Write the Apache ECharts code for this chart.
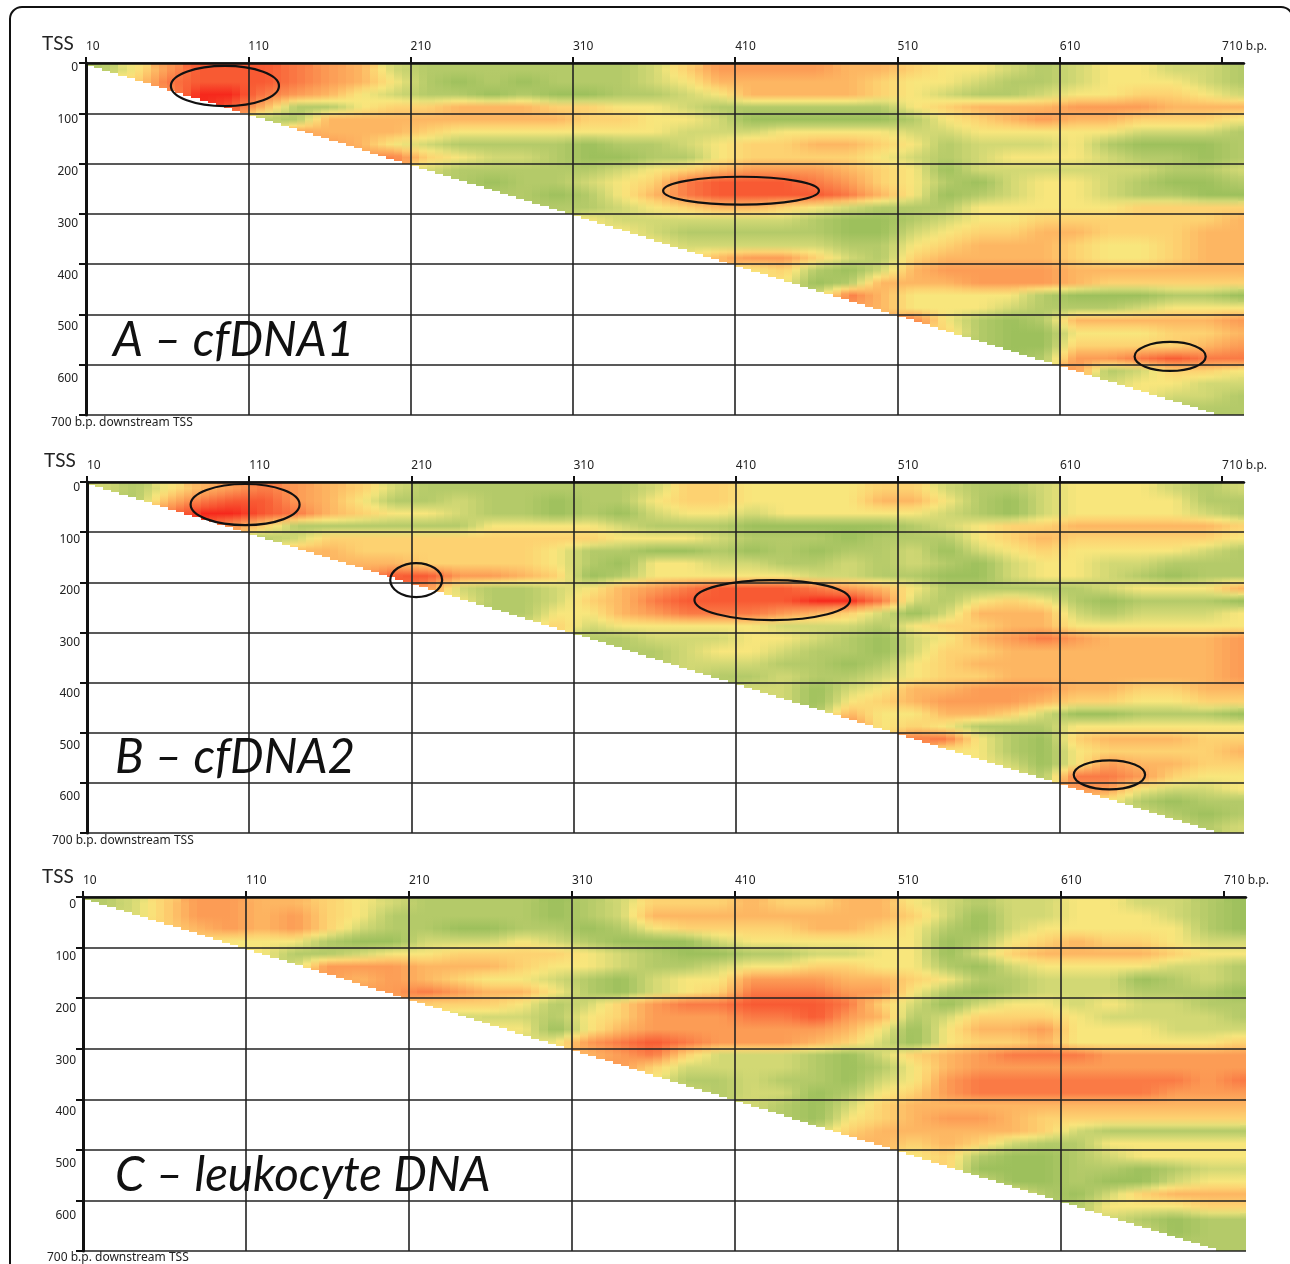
<!DOCTYPE html>
<html>
<head>
<meta charset="utf-8">
<style>html,body{margin:0;padding:0;background:#fff}#c{width:1290px;height:1264px}</style>
<script src="https://cdn.jsdelivr.net/npm/echarts@6/dist/echarts.min.js"></script>
</head>
<body>
<div id="c"></div>
<script>
// Tick labels
const xTickValues = [0, 100, 200, 300, 400, 500, 600, 700];
const xTickLabels = ['10', '110', '210', '310', '410', '510', '610', '710 b.p.'];
const yTickValues = [0, 100, 200, 300, 400, 500, 600, 700];

// Colour level read per cell: 20 b.p. columns, 25 b.p. rows (0 green, 3 yellow, 9 red)
const panelA = [
  "13688 87652 11111 11246 66655 43321 23322 1",
  ".4788 87653 10101 11235 55554 33211 23332 1",
  "..699 76532 11010 01123 55554 32112 33443 2",
  "...98 51134 45554 43321 11111 34555 66655 5",
  "..... 11555 55555 44332 00000 13456 55444 3",
  "..... .6555 43333 33322 23333 22333 33222 1",
  "..... ..653 21111 01123 44554 31222 31000 1",
  "..... ...67 43221 00113 44443 21233 32110 1",
  "..... ..... 21111 12345 66654 30222 22211 2",
  "..... ..... .1011 23478 88764 31023 32100 1",
  "..... ..... ..110 13578 88875 30123 32110 0",
  "..... ..... ...11 12345 54321 11333 33444 4",
  "..... ..... ..... 32222 22100 12334 44444 5",
  "..... ..... ..... .3211 11100 23445 54445 5",
  "..... ..... ..... ..322 22211 34555 43345 5",
  "..... ..... ..... ...35 66421 45555 43345 5",
  "..... ..... ..... ..... 34102 56666 55555 5",
  "..... ..... ..... ..... .3015 55666 54444 4",
  "..... ..... ..... ..... ..275 33331 00011 0",
  "..... ..... ..... ..... ...65 33321 11233 3",
  "..... ..... ..... ..... ..... 73101 55555 6",
  "..... ..... ..... ..... ..... .4100 33344 5",
  "..... ..... ..... ..... ..... ..100 44445 6",
  "..... ..... ..... ..... ..... ...01 66787 7",
  "..... ..... ..... ..... ..... ..... 61244 3",
  "..... ..... ..... ..... ..... ..... .2332 2",
  "..... ..... ..... ..... ..... ..... ..322 1",
  "..... ..... ..... ..... ..... ..... ...11 1"
];
const panelB = [
  "21356 76542 11111 11244 33334 42112 33321 2",
  ".1578 86531 12110 11344 33335 53102 33331 1",
  "..799 87543 32110 10233 23333 32102 33332 1",
  "...86 41111 11333 32111 00000 12344 55555 4",
  "..... 12444 44444 43332 11101 11345 44444 3",
  "..... .5544 44443 11001 01011 20234 33332 1",
  "..... ..555 44443 10332 21121 21023 32211 1",
  "..... ...68 86654 01333 33221 10023 32101 1",
  "..... ..... 62112 35678 88765 31111 12333 5",
  "..... ..... .3112 45788 88997 21343 10111 0",
  "..... ..... ..113 35677 76542 02555 21222 3",
  "..... ..... ...24 23333 32221 34455 33333 3",
  "..... ..... ..... 11222 33210 23567 65555 6",
  "..... ..... ..... .1123 32110 24455 55555 6",
  "..... ..... ..... ..122 21101 34555 55555 6",
  "..... ..... ..... ...21 12112 34455 55555 6",
  "..... ..... ..... ..... 22023 55666 55445 5",
  "..... ..... ..... ..... .2034 56665 44334 4",
  "..... ..... ..... ..... ..153 35542 00111 0",
  "..... ..... ..... ..... ...73 43111 33333 3",
  "..... ..... ..... ..... ..... 77310 45554 4",
  "..... ..... ..... ..... ..... .3310 34444 5",
  "..... ..... ..... ..... ..... ..320 36554 4",
  "..... ..... ..... ..... ..... ...31 77643 3",
  "..... ..... ..... ..... ..... ..... 66322 3",
  "..... ..... ..... ..... ..... ..... .3101 1",
  "..... ..... ..... ..... ..... ..... ..210 1",
  "..... ..... ..... ..... ..... ..... ...21 2"
];
const panelC = [
  "12466 55432 11110 12444 54455 32122 33221 0",
  ".2466 56431 11110 12555 55555 42022 33321 0",
  "..456 56421 10011 01344 44554 31023 33331 0",
  "...43 33100 22232 10002 33333 30134 54432 2",
  "..... 31123 34444 32100 11223 30245 55543 3",
  "..... .2666 55543 32112 33443 31023 33322 1",
  "..... ..656 54332 10233 66655 43112 22012 1",
  "..... ...66 76553 10234 77766 31012 22111 0",
  "..... ..... 44431 24677 88874 20233 23221 1",
  "..... ..... .2221 34666 77865 12444 32222 1",
  "..... ..... ..330 35666 66653 03556 33322 2",
  "..... ..... ...23 67876 66542 03445 33333 4",
  "..... ..... ..... 56742 22102 45677 76666 6",
  "..... ..... ..... .6422 22101 35666 66666 6",
  "..... ..... ..... ..311 21102 36777 77776 7",
  "..... ..... ..... ...21 22013 46777 77766 6",
  "..... ..... ..... ..... 21024 55555 55555 5",
  "..... ..... ..... ..... .1034 56654 44444 4",
  "..... ..... ..... ..... ..245 55554 21111 1",
  "..... ..... ..... ..... ...55 45421 13333 3",
  "..... ..... ..... ..... ..... 34100 12333 3",
  "..... ..... ..... ..... ..... .4000 11012 2",
  "..... ..... ..... ..... ..... ..200 10023 3",
  "..... ..... ..... ..... ..... ...31 02455 5",
  "..... ..... ..... ..... ..... ..... 13334 4",
  "..... ..... ..... ..... ..... ..... .2101 1",
  "..... ..... ..... ..... ..... ..... ..201 1",
  "..... ..... ..... ..... ..... ..... ...11 1"
];

// Hand-drawn ellipses: centre and radii in axis units [x, y, rx, ry]
const ellipsesA = [[85.6, 45.7, 33.3, 40], [403.6, 254, 48, 27.8], [668, 583.5, 21.9, 28.8]];
const ellipsesB = [[97.5, 45, 33.6, 41], [203, 195.6, 16, 34], [422.6, 235.5, 48, 40], [630.5, 584, 22, 29]];
const ellipsesC = [];

const levelColors = ['#9DC05C', '#B4CA69', '#D2D874', '#F8E67C', '#FDD271', '#FDB662', '#FC9C55', '#FA7A45', '#F85A33', '#F6281C'];

const X_MAX = 713.5, COL = 20, ROW = 25, SLICE = 5;
const panels = [
  { rows: panelA, ellipses: ellipsesA, left: 86, right: 46, top: 63, bottom: 415, name: 'A \u2013 cfDNA1',
    nameX: 113, nameY: 317, tssX: 42, tssY: 44, footX: 51, footY: 423, labTop: 68, labStep: 51.8, labRight: 8 },
  { rows: panelB, ellipses: ellipsesB, left: 87, right: 46, top: 482, bottom: 833, name: 'B \u2013 cfDNA2',
    nameX: 115, nameY: 734, tssX: 44, tssY: 461, footX: 52, footY: 841, labTop: 488, labStep: 51.5, labRight: 7 },
  { rows: panelC, ellipses: ellipsesC, left: 83, right: 44, top: 897, bottom: 1251, name: 'C \u2013 leukocyte DNA',
    nameX: 115, nameY: 1152, tssX: 42, tssY: 877, footX: 47, footY: 1258, labTop: 905, labStep: 51.7, labRight: 7 }
];

function parseGrid(rows) {
  return rows.map(row => row.replace(/ /g, '').split('').map(ch => ch === '.' ? null : +ch));
}
function cells(grid) {
  const out = [];
  grid.forEach((row, r) => row.forEach((v, c) => { if (v !== null) out.push([c * COL, r * ROW, v]); }));
  return out;
}
const rgb = levelColors.map(h => [1, 3, 5].map(i => parseInt(h.substr(i, 2), 16)));
function shade(level) {
  const i = Math.min(Math.floor(level), rgb.length - 2), f = level - i;
  const m = rgb[i].map((v, k) => Math.round(v + (rgb[i + 1][k] - v) * f));
  return 'rgb(' + m.join(',') + ')';
}
// Smooth display shading of a read cell, towards the neighbouring read cells
function shadeAt(grid, own, x, y) {
  const fc = (x - COL / 2) / COL, fr = (y - ROW / 2) / ROW;
  const c0 = Math.floor(fc), r0 = Math.floor(fr), tc = fc - c0, tr = fr - r0;
  const get = (c, r) => { const v = grid[r] && grid[r][c]; return (v === null || v === undefined) ? own : v; };
  const top = get(c0, r0) * (1 - tc) + get(c0 + 1, r0) * tc;
  const bot = get(c0, r0 + 1) * (1 - tc) + get(c0 + 1, r0 + 1) * tc;
  return shade(top * (1 - tr) + bot * tr);
}

function renderCellFor(grid) {
  return function (params, api) {
    const x0 = api.value(0), y0 = api.value(1), own = api.value(2);
    const x1 = Math.min(x0 + COL, X_MAX), y1 = y0 + ROW;
    const children = [];
    for (let sx = x0; sx < x1; sx += SLICE) {
      const sr = Math.min(sx + SLICE, x1), bottom = Math.min(y1, sr);
      if (bottom <= y0) continue;
      const p = api.coord([sx, y0]), q = api.coord([sr, bottom]);
      const l = Math.round(p[0]), t = Math.round(p[1]);
      const xm = (sx + sr) / 2, ym = (y0 + bottom) / 2;
      children.push({
        type: 'rect',
        shape: { x: l, y: t, width: Math.round(q[0]) - l, height: Math.round(q[1]) - t },
        style: { fill: { type: 'linear', x: 0, y: 0, x2: 0, y2: 1, colorStops: [
          { offset: 0, color: shadeAt(grid, own, xm, y0) },
          { offset: 0.5, color: shadeAt(grid, own, xm, ym) },
          { offset: 1, color: shadeAt(grid, own, xm, bottom) }
        ] } }
      });
    }
    return { type: 'group', children };
  };
}

function renderEllipse(params, api) {
  const c = api.coord([api.value(0), api.value(1)]);
  const e = api.coord([api.value(0) + api.value(2), api.value(1) + api.value(3)]);
  return { type: 'ellipse', shape: { cx: c[0], cy: c[1], rx: e[0] - c[0], ry: e[1] - c[1] },
           style: { fill: null, stroke: '#111', lineWidth: 2.2 } };
}

const LINE = '#222';
const option = { animation: false, backgroundColor: '#fff', grid: [], xAxis: [], yAxis: [], series: [], graphic: [
  { type: 'rect', shape: { x: 10, y: 7, width: 1283, height: 1300, r: 12 }, style: { fill: null, stroke: '#111', lineWidth: 2 }, z: 0 }
] };

panels.forEach((p, i) => {
  const grid = parseGrid(p.rows);
  option.grid.push({ left: p.left, right: p.right, top: p.top, height: p.bottom - p.top, containLabel: false });
  option.xAxis.push({
    type: 'value', gridIndex: i, position: 'top', min: 0, max: X_MAX, interval: 100, z: 5,
    axisLine: { onZero: false, lineStyle: { color: '#111', width: 2.5 } },
    axisTick: { length: 6, customValues: xTickValues, lineStyle: { color: '#111', width: 2 } },
    splitLine: { show: true, showMaxLine: false, lineStyle: { color: LINE, width: 1.6 } },
    axisLabel: { customValues: xTickValues, align: 'left', margin: 10, color: '#222', fontFamily: 'Noto Sans', fontSize: 12,
      formatter: v => xTickLabels[xTickValues.indexOf(v)] || '' }
  });
  option.yAxis.push({
    type: 'value', gridIndex: i, inverse: true, min: 0, max: 700, interval: 100, z: 5,
    axisLine: { onZero: false, lineStyle: { color: '#111', width: 3 } },
    axisTick: { length: 7, lineStyle: { color: '#111', width: 2 } },
    splitLine: { show: true, lineStyle: { color: LINE, width: 1.6 } },
    axisLabel: { show: false }
  });
  const step = p.labStep / 100;
  option.yAxis.push({
    type: 'value', gridIndex: i, inverse: true, position: 'left', interval: 100,
    min: -(p.labTop - p.top) / step, max: (p.bottom - p.labTop) / step,
    axisLine: { show: false, onZero: false }, axisTick: { show: false }, splitLine: { show: false },
    axisLabel: { margin: p.labRight, color: '#222', fontFamily: 'Noto Sans', fontSize: 12,
      customValues: yTickValues.slice(0, -1), formatter: v => (v >= 0 && v % 100 === 0 && v < 700) ? String(v) : '' }
  });
  option.series.push({
    type: 'custom', xAxisIndex: i, yAxisIndex: i * 2, coordinateSystem: 'cartesian2d', z: 1, clip: false,
    silent: true, renderItem: renderCellFor(grid), encode: { x: 0, y: 1 }, data: cells(grid)
  });
  option.series.push({
    type: 'custom', xAxisIndex: i, yAxisIndex: i * 2, coordinateSystem: 'cartesian2d', z: 10, clip: false,
    silent: true, renderItem: renderEllipse, encode: { x: 0, y: 1 }, data: p.ellipses
  });
  option.graphic.push(
    { type: 'text', z: 20, style: { text: p.name, x: p.nameX, y: p.nameY, verticalAlign: 'top',
        font: 'italic 47.5px Lato', fill: '#111' } },
    { type: 'text', z: 20, style: { text: 'TSS', x: p.tssX, y: p.tssY, verticalAlign: 'middle', font: '19px Lato', fill: '#222' } },
    { type: 'text', z: 20, style: { text: '700 b.p. downstream TSS', x: p.footX, y: p.footY, verticalAlign: 'middle', font: '12px "Noto Sans"', fill: '#222' } }
  );
});

const chart = echarts.init(document.getElementById('c'), null, { renderer: 'canvas' });
chart.setOption(option);
</script>
</body>
</html>
